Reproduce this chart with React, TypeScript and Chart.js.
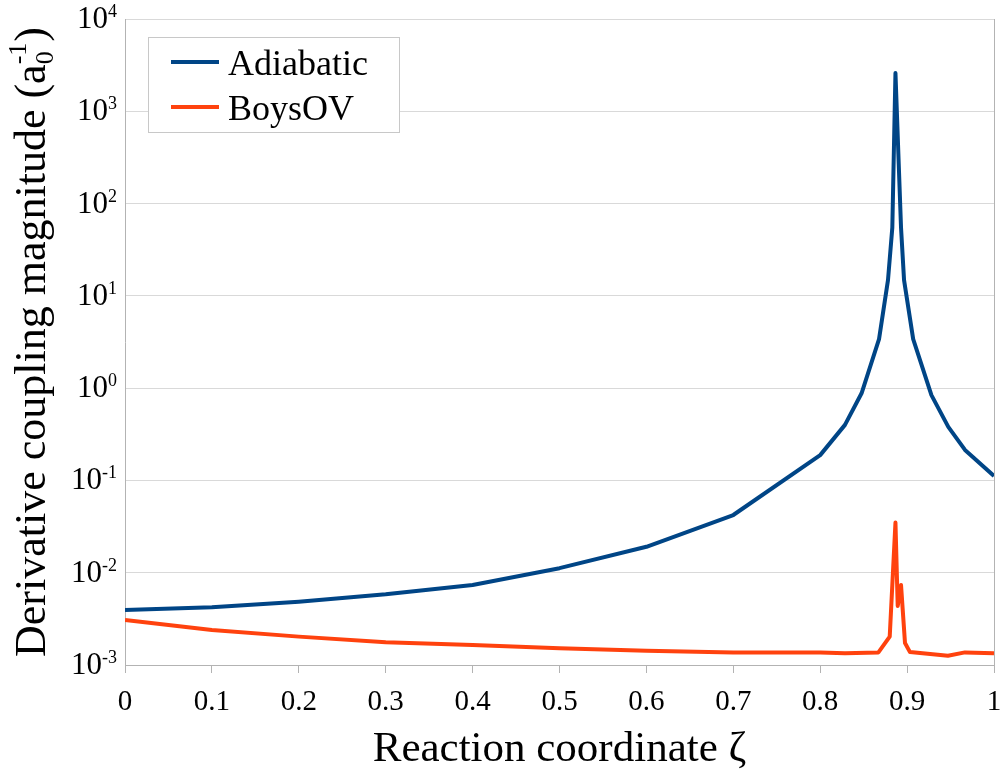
import React, { useEffect, useRef } from "react";
import { Chart, registerables } from "chart.js";

Chart.register(...registerables);

const adiabaticX = [0, 0.1, 0.2, 0.3, 0.4, 0.5, 0.6, 0.7, 0.8, 0.8285, 0.8476, 0.8677, 0.878, 0.883, 0.8866, 0.893, 0.8965, 0.907, 0.928, 0.9474, 0.9666, 1.0];
const adiabaticY = [0.00394, 0.00422, 0.00485, 0.00583, 0.00736, 0.0112, 0.0191, 0.0422, 0.188, 0.40, 0.88, 3.4, 14.8, 55, 2600, 55, 14.8, 3.4, 0.84, 0.38, 0.214, 0.112];

const boysX = [0, 0.1, 0.2, 0.3, 0.4, 0.5, 0.6, 0.7, 0.8, 0.8285, 0.867, 0.88, 0.8866, 0.8892, 0.893, 0.8976, 0.9033, 0.947, 0.9666, 1.0];
const boysY = [0.00308, 0.00239, 0.00203, 0.00176, 0.00165, 0.00152, 0.00143, 0.00137, 0.00137, 0.00134, 0.00137, 0.00203, 0.035, 0.00436, 0.00736, 0.00173, 0.00138, 0.00126, 0.00137, 0.00134];

const xTicks = [0, 0.1, 0.2, 0.3, 0.4, 0.5, 0.6, 0.7, 0.8, 0.9, 1];
const xTickLabels = ["0", "0.1", "0.2", "0.3", "0.4", "0.5", "0.6", "0.7", "0.8", "0.9", "1"];
const yExponents = [-3, -2, -1, 0, 1, 2, 3, 4];

const seriesNames = ["Adiabatic", "BoysOV"];
const seriesColors = ["#004586", "#ff420e"];

const xTitle = "Reaction coordinate ζ";
const yTitleMain = "Derivative coupling magnitude (a";
const yTitleSub = "0";
const yTitleSup = "-1";
const yTitleEnd = ")";

const FONT = '"Liberation Serif", "Times New Roman", serif';

const textPlugin = {
  id: "customText",
  afterDraw(chart: any) {
    const ctx = chart.ctx as CanvasRenderingContext2D;
    const area = chart.chartArea;
    const xs = chart.scales.x;
    const ys = chart.scales.y;
    ctx.save();

    // right border
    ctx.strokeStyle = "#b3b3b3";
    ctx.lineWidth = 1;
    ctx.beginPath();
    ctx.moveTo(Math.round(area.right) + 0.5, area.top);
    ctx.lineTo(Math.round(area.right) + 0.5, area.bottom);
    ctx.stroke();

    ctx.fillStyle = "#000";

    // y tick labels 10^n
    for (const e of yExponents) {
      const y = ys.getPixelForValue(Math.pow(10, e));
      const sup = String(e);
      ctx.font = `18px ${FONT}`;
      const sw = ctx.measureText(sup).width;
      const right = area.left - 8;
      ctx.textAlign = "left";
      ctx.textBaseline = "alphabetic";
      ctx.fillText(sup, right - sw, y - 2);
      ctx.font = `31px ${FONT}`;
      ctx.textAlign = "right";
      ctx.fillText("10", right - sw, y + 9);
    }

    // x tick labels
    ctx.font = `29px ${FONT}`;
    ctx.textAlign = "center";
    ctx.textBaseline = "alphabetic";
    xTicks.forEach((v, i) => {
      const x = xs.getPixelForValue(v);
      ctx.fillText(xTickLabels[i], x, area.bottom + 45);
    });

    // x title
    ctx.font = `43px ${FONT}`;
    ctx.fillText(xTitle, (area.left + area.right) / 2, area.bottom + 96);

    // y title (rotated, with sub/superscript)
    ctx.save();
    const cy = (area.top + area.bottom) / 2;
    ctx.translate(45, cy);
    ctx.rotate(-Math.PI / 2);
    ctx.textAlign = "left";
    ctx.font = `44px ${FONT}`;
    const wMain = ctx.measureText(yTitleMain).width;
    const wEnd = ctx.measureText(yTitleEnd).width;
    ctx.font = `26px ${FONT}`;
    const wSub = ctx.measureText(yTitleSub).width;
    const wSup = ctx.measureText(yTitleSup).width;
    const wSmall = Math.max(wSub, wSup) + 1;
    const total = wMain + wSmall + wEnd;
    let x0 = -total / 2;
    ctx.font = `44px ${FONT}`;
    ctx.fillText(yTitleMain, x0, 0);
    x0 += wMain;
    ctx.font = `26px ${FONT}`;
    ctx.fillText(yTitleSub, x0, 8);
    ctx.fillText(yTitleSup, x0, -19);
    x0 += wSmall;
    ctx.font = `44px ${FONT}`;
    ctx.fillText(yTitleEnd, x0, 0);
    ctx.restore();

    // legend
    const lx = 148.5, ly = 37.5, lw = 251, lh = 95;
    ctx.fillStyle = "#fff";
    ctx.fillRect(lx, ly, lw, lh);
    ctx.strokeStyle = "#c8c8c8";
    ctx.lineWidth = 1;
    ctx.strokeRect(lx, ly, lw, lh);
    const rows = [62, 107];
    const baselines = [75, 120];
    seriesNames.forEach((name, i) => {
      ctx.strokeStyle = seriesColors[i];
      ctx.lineWidth = 4;
      ctx.beginPath();
      ctx.moveTo(171, rows[i]);
      ctx.lineTo(219, rows[i]);
      ctx.stroke();
      ctx.fillStyle = "#000";
      ctx.font = `36px ${FONT}`;
      ctx.textAlign = "left";
      ctx.textBaseline = "alphabetic";
      ctx.fillText(name, 228, baselines[i]);
    });

    ctx.restore();
  },
};

export default function App() {
  const ref = useRef<HTMLCanvasElement | null>(null);
  useEffect(() => {
    if (!ref.current) return;
    const chart = new Chart(ref.current, {
      type: "line",
      data: {
        datasets: [
          {
            label: seriesNames[0],
            data: adiabaticX.map((x, i) => ({ x, y: adiabaticY[i] })),
            borderColor: seriesColors[0],
            backgroundColor: seriesColors[0],
            borderWidth: 4,
            pointRadius: 0,
            tension: 0,
            borderJoinStyle: "round",
          },
          {
            label: seriesNames[1],
            data: boysX.map((x, i) => ({ x, y: boysY[i] })),
            borderColor: seriesColors[1],
            backgroundColor: seriesColors[1],
            borderWidth: 4,
            pointRadius: 0,
            tension: 0,
            borderJoinStyle: "round",
          },
        ],
      },
      options: {
        responsive: false,
        animation: false,
        layout: { padding: { top: 19, right: 7, left: 0, bottom: 0 } },
        plugins: { legend: { display: false }, tooltip: { enabled: false } },
        scales: {
          x: {
            type: "linear",
            min: 0,
            max: 1,
            afterBuildTicks: (s: any) => {
              s.ticks = xTicks.map((v) => ({ value: v }));
            },
            ticks: { display: false },
            grid: { drawOnChartArea: false, drawTicks: true, tickLength: 8, color: "#b3b3b3" },
            border: { display: true, color: "#b3b3b3", width: 1 },
            afterFit: (s: any) => {
              s.height = 104;
            },
          },
          y: {
            type: "logarithmic",
            min: 1e-3,
            max: 1e4,
            afterBuildTicks: (s: any) => {
              s.ticks = yExponents.map((e) => ({ value: Math.pow(10, e) }));
            },
            ticks: { display: false },
            grid: { color: "#d9d9d9", drawTicks: false },
            border: { display: true, color: "#b3b3b3", width: 1 },
            afterFit: (s: any) => {
              s.width = 125;
            },
          },
        },
      } as any,
      plugins: [textPlugin],
    });
    return () => chart.destroy();
  }, []);
  return (
    <div style={{ position: "fixed", left: 0, top: 0, width: 1001, height: 769, background: "#fff" }}>
      <canvas ref={ref} width={1001} height={769} style={{ display: "block" }} />
    </div>
  );
}
